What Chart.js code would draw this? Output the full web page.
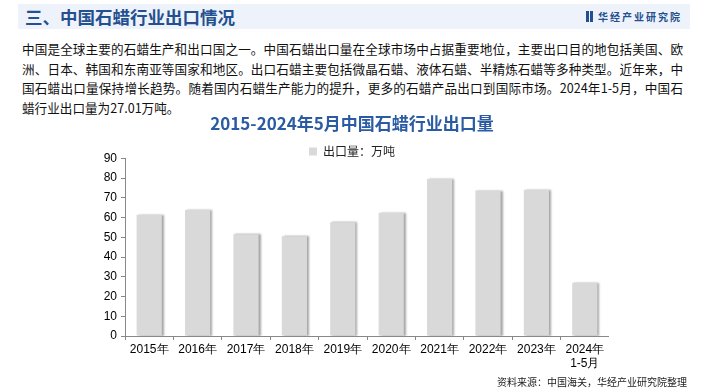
<!DOCTYPE html>
<html lang="zh">
<head>
<meta charset="UTF-8">
<title>中国石蜡行业出口情况</title>
<script src="https://cdn.jsdelivr.net/npm/chart.js"></script>
<style>
    body { margin: 0; width: 705px; height: 392px; background: #fff; position: relative; overflow: hidden; font-family: "Noto Sans CJK SC", sans-serif; }
    .header { position: absolute; left: 18px; top: 4px; width: 672px; height: 25px; background: #eef3fb; }
    .header h1 { margin: 0; position: absolute; left: 7px; top: 0; font-size: 17.5px; line-height: 25px; color: #24508f; font-weight: bold; }
    .logo { position: absolute; right: 8px; top: 0; line-height: 25px; font-size: 10px; color: #24508f; letter-spacing: 2px; font-weight: bold; }
    .logo span { display: inline-block; width: 3px; height: 11px; background: #24508f; margin-right: 1px; vertical-align: -1px; }
    .text { position: absolute; left: 22px; top: 39px; width: 661px; font-size: 12.6px; line-height: 19.5px; color: #111; }
    .text div { text-align: justify; text-align-last: justify; white-space: nowrap; }
    .text div.last { text-align-last: left; }
    .chart { position: absolute; left: 95px; top: 110px; width: 514px; height: 268px; }
    .source { position: absolute; right: 18px; top: 374px; font-size: 10px; color: #222; }
</style>
</head>
<body>
<div class="header">
    <h1>三、中国石蜡行业出口情况</h1>
    <div class="logo"><span></span><span></span> 华经产业研究院</div>
</div>
<div class="text">
    <div>中国是全球主要的石蜡生产和出口国之一。中国石蜡出口量在全球市场中占据重要地位，主要出口目的地包括美国、欧</div>
    <div>洲、日本、韩国和东南亚等国家和地区。出口石蜡主要包括微晶石蜡、液体石蜡、半精炼石蜡等多种类型。近年来，中</div>
    <div>国石蜡出口量保持增长趋势。随着国内石蜡生产能力的提升，更多的石蜡产品出口到国际市场。2024年1-5月，中国石</div>
    <div class="last">蜡行业出口量为27.01万吨。</div>
</div>
<div class="chart"><canvas id="exportChart"></canvas></div>
<div class="source">资料来源：中国海关，华经产业研究院整理</div>

<script>
    const categories = ['2015年', '2016年', '2017年', '2018年', '2019年', '2020年', '2021年', '2022年', '2023年', ['2024年', '1-5月']];
    const exportVolume = [61.5, 63.8, 51.5, 50.5, 57.6, 62.5, 79.6, 73.7, 74.1, 27.01];
    const seriesName = '出口量：万吨';
    const chartTitle = '2015-2024年5月中国石蜡行业出口量';

    // 柱子右侧的淡阴影
    const barShadow = {
        id: 'barShadow',
        beforeDatasetsDraw(chart) {
            const ctx = chart.ctx;
            ctx.save();
            ctx.shadowColor = 'rgba(0,0,0,0.35)';
            ctx.shadowOffsetX = 2;
            ctx.shadowOffsetY = 0;
            ctx.shadowBlur = 2;
        },
        afterDatasetsDraw(chart) {
            chart.ctx.restore();
        }
    };

    // 图例下方默认留白太多，收紧一点
    const tightLegend = {
        id: 'tightLegend',
        beforeUpdate(chart) {
            const legend = chart.legend;
            if (legend && !legend._tight) {
                const fit = legend.fit.bind(legend);
                legend.fit = function () { fit(); this.height -= 9; };
                legend._tight = true;
            }
        }
    };

    const ctx = document.getElementById('exportChart').getContext('2d');
    new Chart(ctx, {
        type: 'bar',
        data: {
            labels: categories,
            datasets: [{
                label: seriesName,
                data: exportVolume,
                backgroundColor: '#d9d9d9',
                barPercentage: 0.52,
                categoryPercentage: 1
            }]
        },
        options: {
            responsive: true,
            maintainAspectRatio: false,
            animation: false,
            layout: { padding: 0 },
            plugins: {
                title: {
                    display: true,
                    text: chartTitle,
                    color: '#2b5ca3',
                    font: { size: 17, weight: 'bold', family: '"Noto Sans CJK SC", sans-serif' },
                    padding: { top: 3, bottom: 12 }
                },
                legend: {
                    labels: {
                        boxWidth: 8,
                        boxHeight: 8,
                        padding: 0,
                        color: '#222',
                        font: { size: 12, family: '"Noto Sans CJK SC", sans-serif' }
                    }
                },
                tooltip: { enabled: false }
            },
            scales: {
                x: {
                    afterFit(scale) { scale.height = 42; },
                    grid: { offset: true, drawOnChartArea: false, drawTicks: true, tickLength: 4, color: '#888' },
                    border: { color: '#888' },
                    ticks: { color: '#000', font: { size: 12, family: 'Arial' }, maxRotation: 0, padding: 2 }
                },
                y: {
                    min: 0,
                    max: 90,
                    afterFit(scale) { scale.width = 30; },
                    grid: { drawOnChartArea: false, drawTicks: true, tickLength: 4, color: '#888' },
                    border: { color: '#888' },
                    ticks: { stepSize: 10, color: '#000', font: { size: 12, family: 'Arial' }, padding: 4 }
                }
            }
        },
        plugins: [barShadow, tightLegend]
    });
</script>
</body>
</html>
